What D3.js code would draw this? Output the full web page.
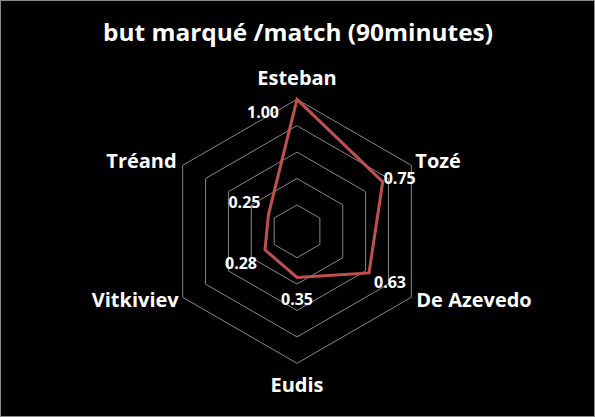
<!DOCTYPE html>
<html>
<head>
<meta charset="utf-8">
<script src="https://cdn.jsdelivr.net/npm/d3@7"></script>
<style>
  html, body { margin: 0; padding: 0; background: #000; }
  .vis { width: 595px; height: 417px; }
  text { font-family: "Open Sans", sans-serif; font-weight: bold; fill: #fff; }
</style>
</head>
<body>
<div class="vis"></div>
<script>
(function() {
  'use strict';

  var players = ['Esteban', 'Tozé', 'De Azevedo', 'Eudis', 'Vitkiviev', 'Tréand'];
  var goals = [1.00, 0.75, 0.63, 0.35, 0.28, 0.25];
  var ringTicks = [0.2, 0.4, 0.6, 0.8, 1.0];

  // label placement, relative to the point / outer vertex
  var valueOffset = [[-34, 13], [17, -3], [21, 10], [0, 22], [-24, 14], [-24, -12]];
  var nameAnchor = ['middle', 'start', 'start', 'middle', 'end', 'end'];
  var nameOffset = [[0, -14], [4, 3], [5, 10], [0, 29], [-4, 10], [-6, 3]];

  var el = d3.select('.vis'),
    elWidth = 595,
    elHeight = 417,
    cx = 297,
    cy = 231.3,
    radius = 132;

  var svg = el.append('svg')
    .attr('width', elWidth)
    .attr('height', elHeight);

  svg.append('rect')
    .attr('x', 0.5).attr('y', 0.5)
    .attr('width', elWidth - 1).attr('height', elHeight - 1)
    .attr('fill', '#000')
    .attr('stroke', '#898989');

  svg.append('text')
    .attr('x', 298)
    .attr('y', 41)
    .attr('text-anchor', 'middle')
    .attr('textLength', 390)
    .attr('lengthAdjust', 'spacingAndGlyphs')
    .style('font-size', '23.5px')
    .text('but marqué /match (90minutes)');

  var g = svg.append('g')
    .attr('transform', 'translate(' + cx + ',' + cy + ')');

  var r = d3.scaleLinear().domain([0, 1]).range([0, radius]);
  var angle = d3.scalePoint().domain(players).range([0, 2 * Math.PI * 5 / 6]);

  function px(name, v) { return r(v) * Math.sin(angle(name)); }
  function py(name, v) { return -r(v) * Math.cos(angle(name)); }

  var ringLine = d3.line().curve(d3.curveLinearClosed);

  g.selectAll('.ring')
    .data(ringTicks)
    .enter()
    .append('path')
      .attr('class', 'ring')
      .attr('d', function(t) {
        return ringLine(players.map(function(p) { return [px(p, t), py(p, t)]; }));
      })
      .attr('fill', 'none')
      .attr('stroke', '#868686')
      .attr('stroke-width', 1);

  g.append('path')
    .attr('d', ringLine(players.map(function(p, i) { return [px(p, goals[i]), py(p, goals[i])]; })))
    .attr('fill', 'none')
    .attr('stroke', '#c0504d')
    .attr('stroke-width', 3)
    .attr('stroke-linejoin', 'miter');

  g.selectAll('.value')
    .data(goals)
    .enter()
    .append('text')
      .attr('class', 'value')
      .attr('x', function(d, i) { return px(players[i], d) + valueOffset[i][0]; })
      .attr('y', function(d, i) { return py(players[i], d) + valueOffset[i][1]; })
      .attr('dy', '0.35em')
      .attr('text-anchor', 'middle')
      .style('font-size', '16px')
      .text(function(d) { return d.toFixed(2); });

  g.selectAll('.name')
    .data(players)
    .enter()
    .append('text')
      .attr('class', 'name')
      .attr('x', function(d, i) { return px(d, 1) + nameOffset[i][0]; })
      .attr('y', function(d, i) { return py(d, 1) + nameOffset[i][1]; })
      .attr('text-anchor', function(d, i) { return nameAnchor[i]; })
      .style('font-size', '20px')
      .text(function(d) { return d; });
}());
</script>
</body>
</html>
